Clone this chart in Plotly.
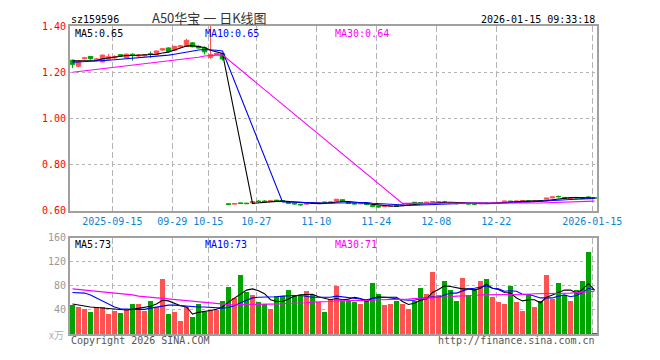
import plotly.graph_objects as go

# ---------------- data ----------------
dates = [
    "2025-09-04", "2025-09-05", "2025-09-08", "2025-09-09", "2025-09-10", "2025-09-11", "2025-09-12",
    "2025-09-15", "2025-09-16", "2025-09-17", "2025-09-18", "2025-09-19", "2025-09-22", "2025-09-23",
    "2025-09-24", "2025-09-25", "2025-09-26", "2025-09-29", "2025-09-30", "2025-10-09", "2025-10-10",
    "2025-10-13", "2025-10-14", "2025-10-15", "2025-10-16", "2025-10-17", "2025-10-20", "2025-10-21",
    "2025-10-22", "2025-10-23", "2025-10-24", "2025-10-27", "2025-10-28", "2025-10-29", "2025-10-30",
    "2025-10-31", "2025-11-03", "2025-11-04", "2025-11-05", "2025-11-06", "2025-11-07", "2025-11-10",
    "2025-11-11", "2025-11-12", "2025-11-13", "2025-11-14", "2025-11-17", "2025-11-18", "2025-11-19",
    "2025-11-20", "2025-11-21", "2025-11-24", "2025-11-25", "2025-11-26", "2025-11-27", "2025-11-28",
    "2025-12-01", "2025-12-02", "2025-12-03", "2025-12-04", "2025-12-05", "2025-12-08", "2025-12-09",
    "2025-12-10", "2025-12-11", "2025-12-12", "2025-12-15", "2025-12-16", "2025-12-17", "2025-12-18",
    "2025-12-19", "2025-12-22", "2025-12-23", "2025-12-24", "2025-12-25", "2025-12-26", "2025-12-29",
    "2025-12-30", "2025-12-31", "2026-01-05", "2026-01-06", "2026-01-07", "2026-01-08", "2026-01-09",
    "2026-01-12", "2026-01-13", "2026-01-14", "2026-01-15",
]

open_ = [
    1.252, 1.226, 1.259, 1.268, 1.252, 1.244, 1.256, 1.262, 1.276, 1.262, 1.278, 1.270, 1.271, 1.280,
    1.276, 1.296, 1.305, 1.295, 1.309, 1.312, 1.327, 1.312, 1.306, 1.264, 1.277, 1.280,
    0.630, 0.629, 0.634, 0.633, 0.634, 0.642, 0.642, 0.641, 0.646, 0.643, 0.636, 0.632, 0.628, 0.629,
    0.634, 0.633, 0.638, 0.636, 0.642, 0.648, 0.636, 0.632, 0.630, 0.631, 0.622, 0.620, 0.618, 0.620,
    0.624, 0.622, 0.625, 0.637, 0.636, 0.635, 0.638, 0.638, 0.638, 0.634, 0.632, 0.631, 0.631, 0.630,
    0.630, 0.634, 0.633, 0.634, 0.637, 0.642, 0.640, 0.642, 0.643, 0.641, 0.643, 0.650, 0.656, 0.662,
    0.658, 0.652, 0.658, 0.657, 0.660, 0.656,
]
high = [
    1.255, 1.252, 1.266, 1.270, 1.262, 1.277, 1.279, 1.274, 1.278, 1.281, 1.281, 1.278, 1.277, 1.290,
    1.294, 1.305, 1.308, 1.314, 1.318, 1.345, 1.330, 1.316, 1.312, 1.400, 1.283, 1.282,
    0.632, 0.633, 0.635, 0.634, 0.642, 0.646, 0.646, 0.645, 0.647, 0.645, 0.637, 0.633, 0.629, 0.633,
    0.635, 0.636, 0.639, 0.640, 0.651, 0.649, 0.637, 0.633, 0.634, 0.632, 0.623, 0.621, 0.622, 0.623,
    0.625, 0.625, 0.633, 0.638, 0.637, 0.639, 0.642, 0.642, 0.641, 0.635, 0.633, 0.634, 0.632, 0.631,
    0.634, 0.636, 0.637, 0.638, 0.643, 0.643, 0.643, 0.645, 0.644, 0.644, 0.644, 0.656, 0.661, 0.666,
    0.659, 0.656, 0.659, 0.658, 0.662, 0.657,
]
low = [
    1.218, 1.222, 1.255, 1.254, 1.250, 1.243, 1.254, 1.258, 1.268, 1.260, 1.250, 1.266, 1.268, 1.262,
    1.274, 1.292, 1.288, 1.292, 1.305, 1.310, 1.308, 1.302, 1.277, 1.258, 1.274, 1.250,
    0.626, 0.628, 0.630, 0.629, 0.633, 0.637, 0.637, 0.640, 0.642, 0.639, 0.630, 0.626, 0.622, 0.628,
    0.630, 0.631, 0.634, 0.635, 0.640, 0.640, 0.630, 0.627, 0.629, 0.626, 0.615, 0.613, 0.617, 0.619,
    0.619, 0.621, 0.624, 0.633, 0.632, 0.634, 0.637, 0.636, 0.634, 0.631, 0.628, 0.629, 0.627, 0.625,
    0.629, 0.631, 0.632, 0.633, 0.636, 0.638, 0.639, 0.641, 0.639, 0.640, 0.640, 0.648, 0.654, 0.658,
    0.652, 0.651, 0.654, 0.652, 0.654, 0.654,
]
close = [
    1.234, 1.245, 1.262, 1.258, 1.257, 1.274, 1.267, 1.268, 1.270, 1.278, 1.272, 1.274, 1.275, 1.277,
    1.292, 1.301, 1.290, 1.312, 1.314, 1.338, 1.310, 1.305, 1.288, 1.276, 1.281, 1.257,
    0.628, 0.631, 0.632, 0.631, 0.640, 0.640, 0.640, 0.643, 0.643, 0.642, 0.633, 0.630, 0.626, 0.631,
    0.633, 0.635, 0.636, 0.638, 0.650, 0.642, 0.632, 0.630, 0.632, 0.628, 0.620, 0.617, 0.620, 0.622,
    0.620, 0.624, 0.632, 0.635, 0.633, 0.637, 0.640, 0.640, 0.637, 0.632, 0.631, 0.633, 0.630, 0.629,
    0.632, 0.632, 0.635, 0.636, 0.642, 0.639, 0.642, 0.643, 0.640, 0.642, 0.641, 0.655, 0.660, 0.661,
    0.654, 0.654, 0.656, 0.653, 0.656, 0.655,
]
volume = [
    49, 45, 42, 37, 45, 45, 34, 39, 35, 40, 51, 50, 39, 56, 45, 92, 34, 37, 22, 45,
    29, 50, 37, 40, 40, 56, 79, 61, 98, 70, 66, 53, 50, 42, 63, 63, 74, 63, 64, 72,
    66, 54, 37, 58, 81, 56, 56, 53, 51, 55, 85, 67, 48, 51, 55, 50, 42, 56, 77, 67,
    103, 65, 88, 74, 56, 94, 65, 75, 88, 92, 62, 54, 50, 80, 53, 39, 65, 46, 56, 98,
    59, 85, 65, 56, 74, 88, 136, 2,
]

N = None
ma5 = [
    1.249, 1.249, 1.250, 1.250, 1.250, 1.258, 1.262, 1.265, 1.268, 1.272, 1.272, 1.273, 1.274, 1.275,
    1.278, 1.283, 1.287, 1.296, 1.303, 1.313, 1.315, 1.312, 1.307, 1.295, 1.287, 1.281,
    N, N, N, N,
    0.632, 0.635, 0.637, 0.639, 0.641, 0.642, 0.640, 0.638, 0.635, 0.632, 0.631, 0.631, 0.632, 0.635,
    0.638, 0.640, 0.640, 0.638, 0.637, 0.633, 0.628, 0.625, 0.623, 0.621, 0.620, 0.621, 0.624, 0.627,
    0.629, 0.632, 0.636, 0.637, 0.637, 0.637, 0.636, 0.634, 0.632, 0.631, 0.631, 0.631, 0.632, 0.633,
    0.636, 0.637, 0.639, 0.641, 0.641, 0.641, 0.642, 0.644, 0.648, 0.652, 0.654, 0.657, 0.657, 0.656,
    0.655, 0.655,
]
ma10 = [
    1.243, 1.244, 1.245, 1.247, 1.248, 1.250, 1.252, 1.254, 1.256, 1.258, 1.260, 1.262, 1.264, 1.266,
    1.268, 1.271, 1.274, 1.278, 1.283, 1.288, 1.293, 1.296, 1.298, 1.298, 1.295, 1.292,
    N, N, N, N, N, N, N, N, N,
    0.638, 0.638, 0.637, 0.636, 0.635, 0.634, 0.634, 0.633, 0.633, 0.634, 0.635, 0.635, 0.635, 0.636,
    0.636, 0.633, 0.631, 0.630, 0.628, 0.626, 0.624, 0.624, 0.624, 0.625, 0.626, 0.628, 0.631, 0.632,
    0.633, 0.634, 0.635, 0.634, 0.634, 0.634, 0.633, 0.633, 0.633, 0.634, 0.634, 0.635, 0.637, 0.638,
    0.640, 0.641, 0.643, 0.645, 0.646, 0.648, 0.649, 0.650, 0.651, 0.652, 0.653,
]
ma30 = [
    1.200, 1.203, 1.206, 1.209, 1.212, 1.215, 1.218, 1.221, 1.224, 1.227, 1.230, 1.233, 1.236, 1.239,
    1.242, 1.245, 1.248, 1.251, 1.254, 1.257, 1.261, 1.265, 1.270, 1.273, 1.274, 1.275,
    N, N, N, N, N, N, N, N, N, N, N, N, N, N, N, N, N, N, N, N, N, N, N, N, N, N, N, N, N,
    0.632, 0.632, 0.632, 0.632, 0.632, 0.632, 0.632, 0.632, 0.632, 0.632, 0.632, 0.631, 0.631, 0.631,
    0.631, 0.631, 0.632, 0.632, 0.632, 0.632, 0.633, 0.633, 0.633, 0.634, 0.635, 0.636, 0.637, 0.638,
    0.638, 0.639, 0.640, 0.641, 0.642,
]
vol_ma5 = [
    50, 48, 46, 45, 44, 43, 42, 41, 40, 40, 41, 43, 44, 46, 50, 56, 55, 51, 47, 45,
    33, 36, 37, 39, 41, 45, 53, 60, 67, 73, 75, 72, 67, 57, 54, 54, 58, 63, 65, 66,
    66, 62, 59, 57, 59, 57, 58, 61, 59, 54, 60, 62, 61, 61, 61, 54, 49, 51, 56, 58,
    69, 74, 80, 79, 77, 75, 75, 73, 76, 83, 76, 74, 69, 68, 60, 55, 57, 57, 52, 61,
    65, 69, 73, 73, 68, 74, 84, 73,
]
vol_ma10 = [
    69, 69, 68, 65, 60, 55, 49, 45, 42, 41, 41, 41, 41, 43, 45, 47, 48, 48, 47, 46,
    45, 45, 45, 44, 44, 43, 44, 47, 52, 56, 60, 61, 61, 61, 62, 63, 64, 64, 64, 62,
    61, 61, 61, 61, 63, 62, 60, 60, 58, 57, 59, 60, 61, 60, 58, 57, 56, 56, 59, 60,
    62, 61, 65, 68, 68, 72, 75, 76, 78, 80, 76, 75, 71, 72, 71, 66, 66, 63, 60, 60,
    60, 63, 65, 62, 64, 69, 76, 73,
]
vol_ma30 = [
    75, 74, 73, 72, 72, 71, 70, 69, 68, 66, 65, 63, 62, 61, 60, 59, 58, 57, 56, 55,
    54, 53, 52, 51, 50, 49, 48, 48, 49, 49, 49, 49, 49, 50, 50, 50, 51, 51, 52, 52,
    53, 53, 54, 54, 55, 55, 55, 55, 56, 56, 56, 57, 57, 57, 58, 58, 58, 59, 59, 60,
    60, 61, 61, 62, 63, 63, 64, 64, 65, 65, 66, 66, 66, 66, 66, 66, 66, 67, 67, 67,
    67, 68, 68, 68, 69, 69, 70, 71,
]

tick_dates = ["2025-09-15", "2025-09-29", "2025-10-15", "2025-10-27", "2025-11-10",
              "2025-11-24", "2025-12-08", "2025-12-22", "2026-01-15"]
tick_labels = ["2025-09-15", "09-29", "10-15", "10-27", "11-10",
               "11-24", "12-08", "12-22", "2026-01-15"]
price_ticks = [0.6, 0.8, 1.0, 1.2, 1.4]
price_tick_labels = ["0.60", "0.80", "1.00", "1.20", "1.40"]
vol_ticks = [40, 80, 120, 160]
vol_tick_labels = ["40", "80", "120", "160"]

code = "sz159596"
title = "A50华宝 一 日K线图"
stamp = "2026-01-15 09:33:18"
ma_price_labels = ["MA5:0.65", "MA10:0.65", "MA30:0.64"]
ma_vol_labels = ["MA5:73", "MA10:73", "MA30:71"]

for arr in (open_, high, low, close, volume, ma5, ma10, ma30, vol_ma5, vol_ma10, vol_ma30):
    assert len(arr) == len(dates), len(arr)

# ---------------- styling ----------------
RED = "#ff5252"
GREEN = "#00a400"
MONO = "DejaVu Sans Mono"
GRID = "#b4b4b4"
BORDER = "#a0a0a0"
ma_colors = ["#000000", "#0000ff", "#ff00ff"]

x = list(range(len(dates)))
bar_colors = [RED if c >= o else GREEN for o, c in zip(open_, close)]
tick_pos = [dates.index(d) - 0.37 for d in tick_dates]

fig = go.Figure()

fig.add_trace(go.Candlestick(
    x=x, open=open_, high=high, low=low, close=close,
    increasing=dict(line=dict(color=RED, width=1), fillcolor=RED),
    decreasing=dict(line=dict(color=GREEN, width=1), fillcolor=GREEN),
    whiskerwidth=0, xaxis="x", yaxis="y", showlegend=False, hoverinfo="skip",
))
for vals, col in zip([ma5, ma10, ma30], ma_colors):
    fig.add_trace(go.Scatter(x=x, y=vals, mode="lines", connectgaps=True,
                             line=dict(color=col, width=1.1), xaxis="x", yaxis="y",
                             showlegend=False, hoverinfo="skip"))

fig.add_trace(go.Bar(x=x, y=volume, width=0.75, marker=dict(color=bar_colors, line=dict(width=0)),
                     xaxis="x2", yaxis="y2", showlegend=False, hoverinfo="skip"))
for vals, col in zip([vol_ma5, vol_ma10, vol_ma30], ma_colors):
    fig.add_trace(go.Scatter(x=x, y=vals, mode="lines",
                             line=dict(color=col, width=1.1), xaxis="x2", yaxis="y2",
                             showlegend=False, hoverinfo="skip"))

xrange = [-0.42, len(dates) - 1 + 0.42]
common_x = dict(range=xrange, tickvals=tick_pos, showgrid=True, gridcolor=GRID,
                griddash="6px,3px", gridwidth=1, showline=True, linecolor=BORDER,
                linewidth=2, mirror=True, ticks="", zeroline=False, fixedrange=True)

annotations = []

def ann(text, xp, yp, color, size=10, xanchor="left", family=MONO):
    annotations.append(dict(text=text, x=xp, y=yp, xref="paper", yref="paper",
                            xanchor=xanchor, yanchor="middle", showarrow=False,
                            font=dict(family=family, size=size, color=color)))

# page has an 8px body margin: the figure is drawn 8px right/down of the window origin
W, H0 = 527.0, 320.0  # plot pixel width, paper height
def py(pix):  # window pixel y -> paper fraction
    return (340 - pix) / H0
def px(pix):  # window pixel x -> paper fraction
    return (pix - 70) / W

ann(code, px(69), py(13), "#000000", 10)
ann(title, px(209), py(11), "#333333", 13, "center", "Noto Sans CJK SC")
ann(stamp, 1.0, py(13), "#000000", 10, "right")
for i, (t, c) in enumerate(zip(ma_price_labels, ma_colors)):
    ann(t, px(73 + 130 * i), py(27.5), c, 10)
for i, (t, c) in enumerate(zip(ma_vol_labels, ma_colors)):
    ann(t, px(73 + 130 * i), py(247), c, 10)
ann("x万", px(66), py(340), "#b0b0b0", 10, "right", "Noto Sans CJK SC")
ann("Copyright 2026 SINA.COM", px(69), py(347), "#555555", 10)
ann("http://finance.sina.com.cn", 1.0, py(347), "#555555", 10, "right")

fig.update_layout(
    width=644, height=344,
    margin=dict(l=62, r=55, t=12, b=12),
    paper_bgcolor="white", plot_bgcolor="white",
    boxgap=0.25, boxgroupgap=0, bargap=0,
    showlegend=False,
    xaxis=dict(common_x, domain=[0, 1], anchor="y", ticktext=tick_labels,
               tickfont=dict(family=MONO, size=10, color="#0a84d6"),
               rangeslider=dict(visible=False)),
    xaxis2=dict(common_x, domain=[0, 1], anchor="y2", showticklabels=False),
    yaxis=dict(domain=[py(212), 1.0], range=[0.6, 1.4], tickvals=price_ticks,
               ticktext=price_tick_labels, tickfont=dict(family=MONO, size=10, color="#ff0000"),
               showgrid=True, gridcolor=GRID, griddash="dot", showline=True, linecolor=BORDER,
               linewidth=2, mirror=True, ticks="", zeroline=False, fixedrange=True),
    yaxis2=dict(domain=[0, py(240)], range=[0, 160], tickvals=vol_ticks, ticktext=vol_tick_labels,
                tickfont=dict(family=MONO, size=10, color="#999999"),
                showgrid=True, gridcolor=GRID, griddash="dot", showline=True, linecolor=BORDER,
                linewidth=2, mirror=True, ticks="", zeroline=False, fixedrange=True),
    annotations=annotations,
)

fig.write_html("out.html")
